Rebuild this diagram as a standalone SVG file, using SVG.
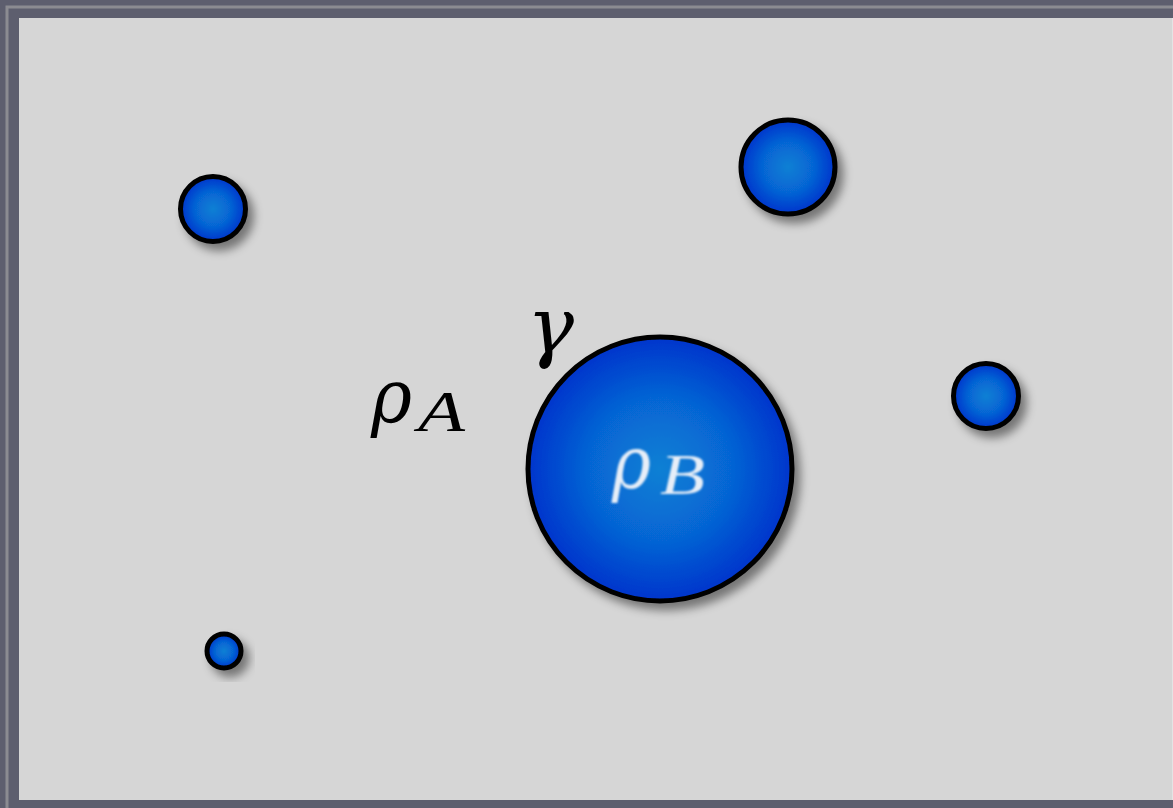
<svg xmlns="http://www.w3.org/2000/svg" width="1173" height="808" viewBox="0 0 1173 808">
  <defs>
    <radialGradient id="blue" cx="0.5" cy="0.5" r="0.5">
      <stop offset="0" stop-color="#0a80d4"/>
      <stop offset="0.55" stop-color="#0664d4"/>
      <stop offset="1" stop-color="#0234cc"/>
    </radialGradient>
    <filter id="shadow" x="-30%" y="-30%" width="170%" height="170%">
      <feDropShadow dx="6" dy="7" stdDeviation="5" flood-color="#000" flood-opacity="0.45"/>
    </filter>
    <filter id="soft" x="-20%" y="-20%" width="140%" height="140%">
      <feGaussianBlur stdDeviation="0.8"/>
    </filter>
  </defs>
  <style>
    .bubble { fill: url(#blue); stroke: #000; stroke-width: 5; filter: url(#shadow); }
    .greek { font-family: "DejaVu Serif", "Liberation Serif", serif; font-style: italic; }
    .latin { font-family: "Liberation Serif", serif; font-style: italic; }
  </style>
  <rect x="0" y="0" width="1173" height="808" fill="#5d5e6e"/>
  <rect x="7" y="7" width="1180" height="820" fill="none" stroke="#8b8b91" stroke-width="3"/>
  <rect x="19" y="18" width="1160" height="782" fill="#d6d6d6"/>
  <line x1="1172.5" y1="18" x2="1172.5" y2="800" stroke="#e4e4e4" stroke-width="1"/>

  <g id="connectors"/>

  <g id="node-small-topleft"><circle class="bubble" cx="213" cy="209" r="32.5"/></g>
  <g id="node-top"><circle class="bubble" cx="788" cy="167" r="47"/></g>
  <g id="node-right"><circle class="bubble" cx="986" cy="396" r="32.5"/></g>
  <g id="node-bottomleft"><circle class="bubble" cx="224" cy="651" r="17"/></g>
  <g id="node-B">
    <circle class="bubble" cx="660" cy="469" r="132"/>
    <g fill="#e6eef8" filter="url(#soft)">
      <text class="greek" x="612" y="488" font-size="72" textLength="39" lengthAdjust="spacingAndGlyphs">ρ</text>
      <text class="latin" x="660" y="494" font-size="57" textLength="45" lengthAdjust="spacingAndGlyphs">B</text>
    </g>
  </g>
  <g id="label-A">
    <text class="greek" x="371" y="422" font-size="74" fill="#000" textLength="41" lengthAdjust="spacingAndGlyphs">ρ</text>
    <text class="latin" x="418" y="431" font-size="57" fill="#000" textLength="47" lengthAdjust="spacingAndGlyphs">A</text>
  </g>
  <g id="label-gamma">
    <text class="greek" x="527" y="353" font-size="78" fill="#000" textLength="47" lengthAdjust="spacingAndGlyphs">γ</text>
  </g>
</svg>
